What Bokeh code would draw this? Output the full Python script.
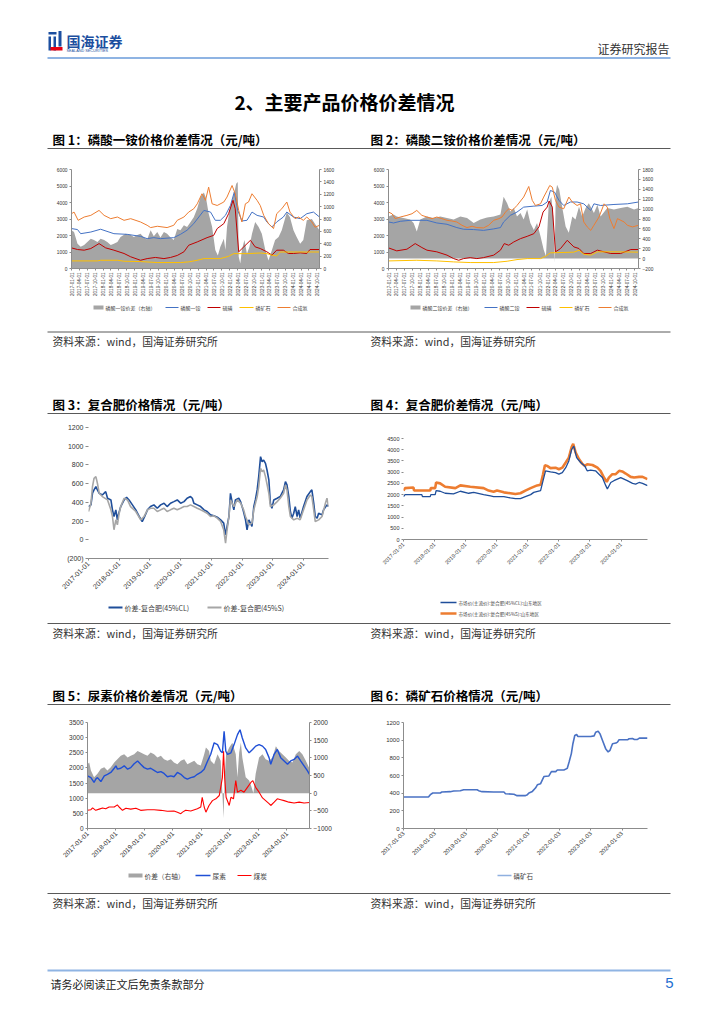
import math
import datetime as dt
from bokeh.plotting import figure
from bokeh.models import Range1d, LinearAxis, FixedTicker, DatetimeTickFormatter, Spacer
from bokeh.layouts import column, row
from bokeh.embed import file_html
from bokeh.resources import INLINE
from bokeh.core.properties import value

CJK = "Noto Sans CJK SC"
NUM = "Liberation Sans"

# ---------------- tick labels ----------------
quarter_labels = [f"{y}-{m:02d}-01" for y in range(2017, 2025) for m in (1, 4, 7, 10)]
year_labels = [f"{y}-01-01" for y in range(2017, 2025)]
year_labels_c6 = [f"{y}-01-03" for y in range(2017, 2025)]

# ---------------- chart 1 : MAP ----------------
c1_gap_t = [2017.00,2017.08,2017.19,2017.29,2017.40,2017.50,2017.61,2017.71,2017.82,2017.92,
            2018.03,2018.13,2018.24,2018.34,2018.45,2018.55,2018.71,2018.87,2018.97,2019.08,
            2019.18,2019.29,2019.39,2019.50,2019.60,2019.71,2019.81,2019.92,2020.02,2020.13,
            2020.23,2020.34,2020.44,2020.55,2020.65,2020.76,2020.86,2020.97,2021.07,2021.18,
            2021.25,2021.33,2021.44,2021.54,2021.62,2021.70,2021.81,2021.86,2021.91,2021.99,
            2022.07,2022.14,2022.20,2022.25,2022.28,2022.33,2022.38,2022.46,2022.54,2022.62,
            2022.70,2022.80,2022.91,2023.01,2023.12,2023.22,2023.33,2023.43,2023.54,2023.64,
            2023.80,2023.90,2024.01,2024.11,2024.22,2024.32,2024.43,2024.59,2024.69,2024.83]
c1_gap = [620,590,400,350,380,430,480,460,430,480,
          460,430,380,400,430,510,560,540,510,540,
          560,500,470,620,520,590,500,590,560,500,
          460,640,620,700,670,750,830,970,1150,1230,
          1130,890,670,300,210,350,480,300,670,940,
          1100,1230,1370,1400,190,80,300,460,240,350,
          560,750,670,560,300,130,300,460,510,620,
          910,830,620,510,400,460,780,800,720,620]
c1_map_t = [2017.00,2017.19,2017.29,2017.61,2017.92,2018.34,2018.76,2019.18,2019.39,2019.60,
            2019.81,2020.23,2020.44,2020.65,2020.86,2021.02,2021.18,2021.39,2021.54,2021.70,
            2021.86,2022.02,2022.14,2022.25,2022.38,2022.54,2022.70,2022.86,2023.07,2023.17,
            2023.33,2023.48,2023.69,2023.80,2024.01,2024.22,2024.43,2024.64,2024.83]
c1_map = [2420,2360,2110,2210,2380,2110,2070,1950,1810,1870,
          1810,1870,2070,2320,2720,3120,3520,3420,2920,2920,
          3220,3830,4630,3520,2880,2920,3420,3220,3120,2820,
          2520,2820,3120,3420,3120,3020,3320,3420,3120]
c1_s_t = [2017.00,2017.19,2017.40,2017.61,2017.87,2018.08,2018.34,2018.66,2018.87,2019.18,
          2019.39,2019.65,2019.92,2020.13,2020.34,2020.55,2020.70,2020.97,2021.28,2021.49,
          2021.60,2021.81,2021.96,2022.10,2022.17,2022.28,2022.44,2022.65,2022.80,2022.96,
          2023.17,2023.33,2023.48,2023.69,2023.85,2024.01,2024.22,2024.43,2024.53,2024.83]
c1_s = [1250,1150,1110,1210,1510,1250,1110,910,710,500,
        600,670,600,670,790,1010,1410,1610,1870,2010,
        2420,2720,3320,4130,3620,1010,1310,1710,1310,1210,
        1010,810,1110,1110,910,910,950,910,1150,1150]
c1_rock_t = [2017.00,2017.82,2017.92,2018.45,2018.66,2019.18,2019.71,2020.44,2020.70,2020.97,
             2021.18,2021.70,2021.96,2022.12,2022.54,2022.96,2023.17,2023.33,2023.48,2023.59,
             2024.01,2024.43,2024.83]
c1_rock = [460,460,500,500,440,420,360,360,400,500,
           600,600,740,900,900,940,900,810,760,1000,
           1000,1000,1000]
c1_nh3_t = [2017.00,2017.08,2017.21,2017.40,2017.61,2017.87,2018.03,2018.24,2018.45,2018.66,
            2018.87,2019.18,2019.39,2019.50,2019.71,2020.02,2020.23,2020.34,2020.55,2020.70,
            2020.86,2020.97,2021.12,2021.23,2021.33,2021.44,2021.60,2021.81,2021.91,2022.07,
            2022.17,2022.28,2022.38,2022.49,2022.59,2022.70,2022.86,2022.96,2023.07,2023.22,
            2023.38,2023.48,2023.64,2023.80,2023.90,2024.06,2024.17,2024.32,2024.43,2024.59,
            2024.69,2024.83]
c1_nh3 = [3320,3420,2920,3120,3220,3520,3220,3020,3120,2920,
          3020,2820,2620,2480,2560,2480,2620,2920,3120,3420,
          3620,3920,4530,4130,4930,3920,3820,4030,4330,5030,
          4530,3520,2820,3920,4030,4530,4130,3820,3220,2720,
          2420,3320,3620,4030,3420,3020,3120,2920,3120,2820,
          2500,2620]

# ---------------- chart 2 : DAP ----------------
c2_gap_t = [2017.00,2017.16,2017.26,2017.47,2017.68,2017.79,2017.89,2018.00,2018.21,2018.42,
            2018.63,2018.84,2019.05,2019.26,2019.47,2019.68,2019.89,2020.10,2020.31,2020.52,
            2020.62,2020.73,2020.83,2020.94,2021.04,2021.15,2021.25,2021.36,2021.46,2021.57,
            2021.67,2021.78,2021.88,2021.95,2021.99,2022.04,2022.12,2022.18,2022.22,2022.26,
            2022.30,2022.37,2022.46,2022.57,2022.67,2022.78,2022.88,2022.99,2023.09,2023.20,
            2023.30,2023.46,2023.57,2023.67,2023.88,2024.09,2024.30,2024.51,2024.72,2024.86]
c2_gap = [850,890,850,820,790,720,550,790,850,820,
          850,820,790,850,820,720,790,830,850,890,
          1250,1120,950,1020,850,920,790,990,720,580,
          720,450,180,50,520,1120,1250,850,-90,1320,
          1490,1390,1050,650,520,850,790,1050,850,1020,
          1120,920,1090,850,1020,990,1020,1050,990,1020]
c2_dap_t = [2017.00,2017.16,2017.37,2017.68,2018.21,2018.52,2018.84,2019.15,2019.36,2019.68,
            2019.99,2020.31,2020.52,2020.62,2020.83,2021.04,2021.25,2021.57,2021.83,2021.99,
            2022.09,2022.22,2022.36,2022.51,2022.72,2022.93,2023.14,2023.36,2023.46,2023.67,
            2024.09,2024.51,2024.86]
c2_dap = [2820,2760,2860,2920,2920,2760,2680,2480,2380,2360,
          2310,2400,2480,2820,3220,3420,3720,3780,3820,4030,
          4730,4630,4130,3820,4030,4030,3920,3520,3920,3820,
          3880,3920,4030]
c2_s_t = [2017.00,2017.26,2017.58,2017.84,2018.05,2018.21,2018.52,2018.84,2019.05,2019.21,
          2019.36,2019.57,2019.78,2019.99,2020.31,2020.52,2020.64,2020.78,2020.94,2021.15,
          2021.36,2021.57,2021.73,2021.86,2021.99,2022.05,2022.15,2022.25,2022.41,2022.62,
          2022.83,2022.99,2023.14,2023.36,2023.57,2023.78,2023.99,2024.30,2024.62,2024.86]
c2_s = [1250,1070,1170,1510,1270,1110,1010,810,600,500,
        600,660,600,660,810,1110,1510,1410,1610,1810,
        1950,2110,2520,3420,3720,4090,3720,1010,1210,1710,
        1310,1210,910,910,1110,1010,910,910,1150,1150]
c2_rock_t = [2017.00,2017.89,2018.52,2019.05,2019.57,2020.31,2020.73,2021.04,2021.36,2021.78,
             2021.94,2022.09,2022.83,2022.99,2023.14,2023.36,2023.57,2024.09,2024.86]
c2_rock = [460,500,460,400,360,360,440,540,600,600,
           740,950,990,1110,870,810,1010,1010,990]
c2_nh3_t = [2017.00,2017.11,2017.21,2017.37,2017.58,2017.74,2017.89,2018.05,2018.21,2018.37,
            2018.52,2018.68,2018.84,2018.99,2019.15,2019.31,2019.47,2019.63,2019.78,2019.99,
            2020.15,2020.31,2020.47,2020.57,2020.68,2020.78,2020.89,2021.04,2021.25,2021.41,
            2021.52,2021.62,2021.78,2021.88,2021.99,2022.07,2022.15,2022.25,2022.36,2022.51,
            2022.67,2022.78,2022.93,2023.04,2023.14,2023.25,2023.36,2023.46,2023.62,2023.78,
            2023.88,2023.96,2024.09,2024.20,2024.41,2024.51,2024.67,2024.86]
c2_nh3 = [3420,3320,3020,3120,3220,3320,3520,3220,3120,3020,
          3120,3020,2920,2880,2820,2620,2480,2560,2480,2460,
          2620,2920,3020,3120,3420,3620,3520,3820,4330,4970,
          4130,3820,3920,4330,4730,5030,4930,4130,3720,3620,
          4330,4030,3820,3920,2820,2520,2310,2620,3120,3920,
          3720,3020,2420,3020,2820,2620,2520,2620]

# ---------------- chart 3 : compound fertilizer spread ----------------
c3_cl_t = [2017.00,2017.08,2017.13,2017.18,2017.24,2017.29,2017.35,2017.45,2017.56,2017.62,
           2017.73,2017.78,2017.83,2017.89,2017.94,2017.97,2018.05,2018.16,2018.24,2018.32,
           2018.43,2018.54,2018.65,2018.75,2018.83,2018.92,2019.02,2019.13,2019.24,2019.35,
           2019.46,2019.56,2019.67,2019.78,2019.89,2020.00,2020.11,2020.21,2020.32,2020.38,
           2020.43,2020.54,2020.65,2020.76,2020.86,2020.97,2021.08,2021.19,2021.30,2021.40,
           2021.46,2021.51,2021.57,2021.62,2021.68,2021.73,2021.78,2021.89,2021.95,2022.03,
           2022.11,2022.16,2022.22,2022.27,2022.32,2022.38,2022.43,2022.49,2022.54,2022.60,
           2022.65,2022.70,2022.76,2022.81,2022.87,2022.92,2022.97,2023.03,2023.14,2023.24,
           2023.35,2023.41,2023.46,2023.52,2023.57,2023.62,2023.68,2023.73,2023.79,2023.84,
           2023.89,2024.00,2024.11,2024.22,2024.27,2024.33,2024.38,2024.44,2024.49,2024.60,
           2024.65,2024.76,2024.81]
c3_cl = [355,373,497,533,568,533,497,479,515,444,
         426,320,249,320,213,266,355,426,454,426,
         373,320,249,195,249,320,355,373,337,373,
         391,355,391,408,426,391,408,444,462,444,
         391,373,355,320,302,266,256,241,213,178,
         53,142,249,497,391,320,426,444,408,320,
         213,107,213,178,142,355,426,533,675,888,
         834,852,817,746,639,391,337,426,444,462,
         533,621,586,462,302,231,284,355,249,320,
         231,355,462,515,533,391,249,231,284,266,
         320,373,355]
c3_s_t = [2017.00,2017.08,2017.13,2017.18,2017.24,2017.29,2017.35,2017.45,2017.62,2017.73,
          2017.78,2017.83,2017.89,2017.94,2018.00,2018.05,2018.16,2018.27,2018.37,2018.54,
          2018.70,2018.81,2018.92,2019.02,2019.13,2019.24,2019.35,2019.46,2019.56,2019.67,
          2019.78,2019.89,2020.00,2020.11,2020.21,2020.32,2020.43,2020.54,2020.65,2020.76,
          2020.86,2020.97,2021.08,2021.19,2021.30,2021.40,2021.46,2021.51,2021.57,2021.62,
          2021.73,2021.84,2021.95,2022.05,2022.11,2022.22,2022.32,2022.38,2022.49,2022.54,
          2022.60,2022.65,2022.70,2022.76,2022.87,2022.92,2023.03,2023.14,2023.24,2023.35,
          2023.41,2023.46,2023.52,2023.57,2023.68,2023.79,2023.89,2024.00,2024.11,2024.22,
          2024.27,2024.33,2024.38,2024.49,2024.60,2024.71,2024.76,2024.81]
c3_s = [302,391,568,657,675,604,497,462,426,320,
        249,107,213,160,284,355,444,426,355,302,
        213,249,320,337,337,302,320,337,302,320,
        337,320,337,355,355,373,355,337,320,302,
        284,249,256,231,195,107,-35,107,249,426,
        355,426,391,320,249,160,178,320,462,568,
        763,728,746,675,497,355,373,408,444,497,
        586,533,355,249,213,231,213,320,426,479,
        462,320,195,213,249,391,444,355]

# ---------------- chart 4 : compound fertilizer prices ----------------
c4_cl_t = [2017.00,2017.05,2017.59,2017.61,2017.86,2017.88,2018.02,2018.05,2018.18,2018.34,
           2018.61,2018.83,2019.10,2019.26,2019.58,2019.80,2019.90,2020.23,2020.44,2020.60,
           2020.76,2020.92,2021.09,2021.19,2021.41,2021.49,2021.57,2021.73,2021.89,2022.00,
           2022.11,2022.22,2022.32,2022.41,2022.48,2022.57,2022.70,2022.83,2022.91,2023.02,
           2023.18,2023.29,2023.40,2023.51,2023.56,2023.67,2023.77,2023.88,2023.99,2024.20,
           2024.37,2024.47,2024.58,2024.69,2024.85]
c4_cl = [1910,2000,2000,1910,1910,2000,2000,2180,2150,2060,
         2030,2150,2060,2100,2000,1940,1910,1910,1850,1820,
         1820,1910,2000,2100,2180,2620,3060,3010,2980,2910,
         2980,3200,3500,4010,4160,3650,3430,3280,3060,3090,
         3060,2910,2760,2400,2250,2540,2620,2690,2760,2620,
         2500,2470,2540,2500,2400]
c4_s_t = [2017.00,2017.05,2017.32,2017.34,2017.86,2017.88,2018.02,2018.05,2018.18,2018.34,
          2018.67,2018.83,2019.15,2019.58,2019.74,2019.90,2020.01,2020.23,2020.44,2020.60,
          2020.76,2020.92,2021.09,2021.30,2021.41,2021.49,2021.55,2021.62,2021.73,2021.89,
          2022.00,2022.11,2022.22,2022.32,2022.41,2022.46,2022.54,2022.65,2022.75,2022.83,
          2022.91,2023.08,2023.24,2023.34,2023.45,2023.54,2023.61,2023.72,2023.83,2023.94,
          2024.04,2024.15,2024.31,2024.42,2024.58,2024.69,2024.85]
c4_s = [2180,2290,2320,2180,2180,2290,2290,2540,2500,2350,
        2290,2410,2350,2290,2180,2130,2180,2100,2060,2030,
        2060,2180,2290,2410,2440,2910,3310,3280,3180,3200,
        3130,3200,3430,3650,4120,4260,3870,3570,3380,3280,
        3350,3320,3200,3060,2760,2570,2760,2910,2910,3060,
        3030,2940,2790,2760,2790,2790,2690]

# ---------------- chart 5 : urea ----------------
c5_gap_t = [2017.00,2017.06,2017.12,2017.23,2017.35,2017.47,2017.59,2017.70,2017.82,2017.94,
            2018.05,2018.17,2018.29,2018.41,2018.52,2018.64,2018.76,2018.87,2018.99,2019.11,
            2019.22,2019.34,2019.46,2019.58,2019.69,2019.81,2019.93,2020.04,2020.16,2020.28,
            2020.40,2020.51,2020.63,2020.75,2020.86,2020.98,2021.10,2021.16,2021.22,2021.27,
            2021.33,2021.45,2021.57,2021.68,2021.74,2021.78,2021.82,2021.87,2021.98,2022.09,
            2022.21,2022.27,2022.33,2022.39,2022.44,2022.56,2022.68,2022.76,2022.83,2022.91,
            2023.03,2023.15,2023.26,2023.38,2023.50,2023.62,2023.73,2023.85,2023.97,2024.08,
            2024.20,2024.32,2024.44,2024.55,2024.67,2024.80]
c5_gap = [820,870,640,450,550,690,730,640,730,870,
          960,1060,1100,1010,1060,1100,1190,1150,1100,1060,
          1150,1100,1010,1060,960,920,960,870,820,920,
          960,820,870,920,820,780,1100,1290,1240,1190,
          920,820,1100,920,-10,-700,450,1100,1290,1430,
          1100,450,1150,1430,1010,450,360,180,0,550,
          1010,1100,960,920,1010,1330,1190,1100,1010,920,
          870,1100,1190,1100,920,690]
c5_urea_t = [2017.00,2017.12,2017.23,2017.29,2017.35,2017.47,2017.59,2017.70,2017.82,2017.94,
             2018.00,2018.05,2018.17,2018.29,2018.41,2018.52,2018.64,2018.76,2018.87,2018.99,
             2019.11,2019.22,2019.34,2019.46,2019.58,2019.69,2019.81,2019.93,2020.04,2020.16,
             2020.28,2020.40,2020.51,2020.63,2020.75,2020.86,2020.98,2021.10,2021.22,2021.33,
             2021.45,2021.57,2021.68,2021.74,2021.80,2021.86,2021.92,2022.04,2022.15,2022.27,
             2022.36,2022.44,2022.56,2022.68,2022.80,2022.91,2023.03,2023.15,2023.26,2023.38,
             2023.44,2023.56,2023.67,2023.79,2023.91,2024.03,2024.14,2024.26,2024.38,2024.49,
             2024.61,2024.73,2024.80]
c5_urea = [1740,1680,1520,1630,1680,1550,1740,1790,1850,1990,
           2070,1960,1990,2070,1960,2010,2140,2230,2120,2010,
           1960,1990,1920,1850,1880,1820,1710,1740,1710,1850,
           1790,1680,1630,1680,1710,1790,1850,1960,2230,2450,
           2830,2770,2550,2500,3210,2550,2450,2500,2770,3100,
           3260,2990,2660,2500,2610,2720,2770,2720,2610,2340,
           2120,2450,2610,2340,2230,2120,2230,2280,2390,2230,
           2070,1900,1790]
c5_coal_t = [2017.00,2017.12,2017.18,2017.29,2017.41,2017.53,2017.64,2017.76,2017.94,2018.05,
             2018.11,2018.23,2018.35,2018.52,2018.70,2018.87,2019.11,2019.34,2019.58,2019.81,
             2020.04,2020.16,2020.28,2020.34,2020.45,2020.63,2020.86,2020.98,2021.03,2021.10,
             2021.16,2021.27,2021.39,2021.51,2021.63,2021.68,2021.74,2021.78,2021.82,2021.87,
             2021.98,2022.04,2022.13,2022.21,2022.27,2022.39,2022.50,2022.62,2022.74,2022.81,
             2022.91,2023.03,2023.15,2023.26,2023.38,2023.44,2023.56,2023.67,2023.79,2023.91,
             2024.08,2024.26,2024.44,2024.61,2024.80]
c5_coal = [600,620,680,600,640,680,650,710,710,780,
           710,600,670,640,670,600,620,620,600,570,
           580,540,490,540,600,580,650,710,1030,710,
           540,760,920,980,1090,1360,1680,2550,1680,1030,
           760,1030,980,1580,1200,1260,1200,1360,1520,1580,
           1360,1200,1010,920,820,760,870,980,950,920,
           870,840,870,840,860]

# ---------------- chart 6 : phosphate rock ----------------
c6_t = [2017.00,2017.80,2017.86,2017.94,2018.18,2018.23,2018.50,2018.61,2018.82,2018.93,
        2019.36,2019.41,2019.52,2019.89,2020.22,2020.27,2020.54,2020.64,2020.91,2020.97,
        2021.02,2021.13,2021.23,2021.29,2021.39,2021.45,2021.50,2021.66,2021.74,2021.88,
        2021.93,2022.14,2022.25,2022.31,2022.38,2022.43,2022.49,2022.55,2022.59,2023.00,
        2023.11,2023.16,2023.24,2023.30,2023.38,2023.48,2023.56,2023.62,2023.70,2023.81,
        2023.86,2023.91,2024.18,2024.23,2024.34,2024.40,2024.50,2024.56,2024.82]
c6_rock = [357,357,383,402,402,413,417,424,428,439,
           439,428,417,413,413,394,387,372,372,383,
           402,420,458,495,506,551,588,595,644,644,
           662,662,681,755,848,960,1053,1064,1042,1042,
           1049,1090,1101,1071,997,904,867,885,960,967,
           978,1004,1004,1016,1019,1008,1008,1023,1023]

# ---------------- series names ----------------
c1_names = ["磷酸一铵价差（右轴）", "磷酸一铵", "硫磺", "磷矿石", "合成氨"]
c2_names = ["磷酸二铵价差（右轴）", "磷酸二铵", "硫磺", "磷矿石", "合成氨"]
c3_names = ["价差-复合肥(45%CL)", "价差-复合肥(45%S)"]
c4_names = ["市场价(主流价):复合肥(45%CL):山东地区", "市场价(主流价):复合肥(45%S):山东地区"]
c5_names = ["价差（右轴）", "尿素", "煤炭"]
c6_names = ["磷矿石"]

# ---------------- colours ----------------
GRAY = "#a5a5a5"
C_BLUE = "#4472c4"
C_RED = "#c00000"
C_YEL = "#ffc000"
C_ORG = "#ed7d31"
C_NAVY = "#1f4e9a"
C_LGRAY = "#a6a6a6"
C_UREA = "#1f4fd6"
C_COAL = "#ff0000"
C_ROCK = "#4a72c4"


# ---------------- helpers ----------------
def to_dt(t):
    y = int(math.floor(t))
    a = dt.datetime(y, 1, 1)
    b = dt.datetime(y + 1, 1, 1)
    return a + (b - a) * (t - y)


def dts(ts):
    return [to_dt(t) for t in ts]


def ms(s):
    d = dt.datetime.strptime(s, "%Y-%m-%d")
    return (d - dt.datetime(1970, 1, 1)).total_seconds() * 1000.0


FMT = "%Y-%m-%d"


def date_fmt():
    return DatetimeTickFormatter(microseconds=FMT, milliseconds=FMT, seconds=FMT, minsec=FMT,
                                 minutes=FMT, hourmin=FMT, hours=FMT, days=FMT, months=FMT,
                                 years=FMT)


def base_chart(w, h, b, xr, yr):
    p = figure(width=w, height=h, x_axis_type="datetime",
               x_range=Range1d(to_dt(xr[0]), to_dt(xr[1])), y_range=Range1d(*yr),
               toolbar_location=None, output_backend="svg", title=None,
               min_border_left=b[0], min_border_right=b[1],
               min_border_top=b[2], min_border_bottom=b[3],
               outline_line_color=None, border_fill_color="white",
               background_fill_color="white")
    p.xgrid.visible = False
    p.ygrid.visible = False
    return p


def style_axis(ax, fs, line=True, orient=None):
    ax.major_label_text_font = NUM
    ax.major_label_text_font_size = fs
    ax.major_label_text_color = "#333333"
    ax.axis_line_color = "#8c8c8c" if line else None
    ax.major_tick_line_color = "#8c8c8c"
    ax.major_tick_in = 0
    ax.major_tick_out = 2
    ax.minor_tick_line_color = None
    ax.major_label_standoff = 2
    if orient is not None:
        ax.major_label_orientation = orient


def x_dates(p, labels, fs, orient):
    ax = p.xaxis[0]
    ax.ticker = FixedTicker(ticks=[ms(s) for s in labels])
    ax.formatter = date_fmt()
    style_axis(ax, fs, True, orient)


def band(y0, h):
    """Full-width figure whose data space is the page's pixel space."""
    return figure(width=716, height=h, x_range=Range1d(0, 716), y_range=Range1d(y0 + h, y0),
                  x_axis_type=None, y_axis_type=None, toolbar_location=None,
                  output_backend="svg", title=None, min_border=0,
                  outline_line_color=None, border_fill_color="white",
                  background_fill_color="white")


def txt(b, x, y, s, size, color="#000000", bold=False, align="left", font=CJK):
    b.text(x=[x], y=[y], text=[s], text_font=value(font), text_font_size=size,
           text_color=color, text_font_style="bold" if bold else "normal",
           text_align=align, text_baseline="middle")


def rule(b, y, color="#595959", width=1.0):
    b.segment(x0=[47], y0=[y], x1=[670], y1=[y], line_color=color, line_width=width)


def legend_keys(f, keys, names, fs):
    # keys: (kind, colour, width, key_left, key_right, y)
    for (kind, color, lw, k0, k1, y), name in zip(keys, names):
        if kind == "box":
            f.quad(left=[k0], right=[k1], top=[y - 2], bottom=[y + 2],
                   fill_color=color, line_color=None)
        else:
            f.segment(x0=[k0], y0=[y], x1=[k1], y1=[y], line_color=color, line_width=lw)
        txt(f, k1 + 2, y, name, fs, "#404040")


SRC = "资料来源：wind，国海证券研究所"

# ---------------- chart 1 ----------------
p1 = base_chart(362, 151, (71, 43, 20, 32), (2017.0, 2024.83), (0, 6000))
p1.extra_y_ranges = {"r": Range1d(0, 1600)}
p1.varea(x=dts(c1_gap_t), y1=0, y2=c1_gap, y_range_name="r", fill_color=GRAY)
p1.line(x=dts(c1_map_t), y=c1_map, line_color=C_BLUE, line_width=1)
p1.line(x=dts(c1_s_t), y=c1_s, line_color=C_RED, line_width=1)
p1.line(x=dts(c1_rock_t), y=c1_rock, line_color=C_YEL, line_width=1)
p1.line(x=dts(c1_nh3_t), y=c1_nh3, line_color=C_ORG, line_width=1)
p1.yaxis[0].ticker = FixedTicker(ticks=list(range(0, 6001, 1000)))
style_axis(p1.yaxis[0], "4.8px")
ra1 = LinearAxis(y_range_name="r", ticker=FixedTicker(ticks=list(range(0, 1601, 200))))
style_axis(ra1, "4.8px")
p1.add_layout(ra1, "right")
x_dates(p1, quarter_labels, "4.6px", math.pi / 2)

# ---------------- chart 2 ----------------
p2 = base_chart(354, 151, (26, 78, 20, 32), (2017.0, 2024.86), (0, 6000))
p2.extra_y_ranges = {"r": Range1d(-200, 1800)}
p2.varea(x=dts(c2_gap_t), y1=0, y2=c2_gap, y_range_name="r", fill_color=GRAY)
p2.line(x=dts(c2_dap_t), y=c2_dap, line_color=C_BLUE, line_width=1)
p2.line(x=dts(c2_s_t), y=c2_s, line_color=C_RED, line_width=1)
p2.line(x=dts(c2_rock_t), y=c2_rock, line_color=C_YEL, line_width=1)
p2.line(x=dts(c2_nh3_t), y=c2_nh3, line_color=C_ORG, line_width=1)
p2.yaxis[0].ticker = FixedTicker(ticks=list(range(0, 6001, 1000)))
style_axis(p2.yaxis[0], "4.8px")
ra2 = LinearAxis(y_range_name="r", ticker=FixedTicker(ticks=list(range(-200, 1801, 200))))
style_axis(ra2, "4.8px")
p2.add_layout(ra2, "right")
x_dates(p2, quarter_labels, "4.6px", math.pi / 2)

# ---------------- chart 3 ----------------
p3 = base_chart(362, 182, (88, 34, 13, 38), (2017.0, 2024.81), (-200, 1200))
p3.line(x=dts(c3_cl_t), y=c3_cl, line_color=C_NAVY, line_width=1.6)
p3.line(x=dts(c3_s_t), y=c3_s, line_color=C_LGRAY, line_width=1.6)
p3.yaxis[0].ticker = FixedTicker(ticks=list(range(-200, 1201, 200)))
p3.yaxis[0].major_label_overrides = {-200: "(200)"}
style_axis(p3.yaxis[0], "7px", line=False)
p3.yaxis[0].major_tick_out = 3
x_dates(p3, year_labels, "7px", math.pi / 4)

# ---------------- chart 4 ----------------
p4 = base_chart(354, 182, (41, 69, 24, 57), (2017.0, 2024.85), (0, 4500))
p4.line(x=dts(c4_s_t), y=c4_s, line_color=C_ORG, line_width=2.6)
p4.line(x=dts(c4_cl_t), y=c4_cl, line_color=C_NAVY, line_width=1.3)
p4.yaxis[0].ticker = FixedTicker(ticks=list(range(0, 4501, 500)))
style_axis(p4.yaxis[0], "5.5px", line=False)
x_dates(p4, year_labels, "5.5px", math.pi / 4)

# ---------------- chart 5 ----------------
p5 = base_chart(362, 159, (87, 53, 16, 36), (2017.0, 2024.80), (0, 3500))
p5.extra_y_ranges = {"r": Range1d(-1000, 2000)}
p5.varea(x=dts(c5_gap_t), y1=0, y2=c5_gap, y_range_name="r", fill_color=GRAY)
p5.line(x=dts(c5_urea_t), y=c5_urea, line_color=C_UREA, line_width=1.4)
p5.line(x=dts(c5_coal_t), y=c5_coal, line_color=C_COAL, line_width=1.1)
p5.yaxis[0].ticker = FixedTicker(ticks=list(range(0, 3501, 500)))
style_axis(p5.yaxis[0], "6.5px")
ra5 = LinearAxis(y_range_name="r", ticker=FixedTicker(ticks=list(range(-1000, 2001, 500))))
style_axis(ra5, "6.5px")
p5.add_layout(ra5, "right")
x_dates(p5, year_labels, "6.5px", math.pi / 4)

# ---------------- chart 6 ----------------
p6 = base_chart(354, 159, (41, 69, 17, 35), (2017.0, 2024.82), (0, 1200))
p6.line(x=dts(c6_t), y=c6_rock, line_color=C_ROCK, line_width=1.6)
p6.yaxis[0].ticker = FixedTicker(ticks=list(range(0, 1201, 200)))
style_axis(p6.yaxis[0], "6px")
x_dates(p6, year_labels_c6, "6px", math.pi / 4)

# ---------------- page bands ----------------
hdr = band(0, 149)
hdr.quad(left=[48, 48, 53, 58, 50], right=[56, 50.5, 55.5, 61, 62],
         top=[31.5, 36, 36, 30.5, 46.5], bottom=[34, 50, 50, 46, 50],
         fill_color=["#1c4fa0", "#1c4fa0", "#1c4fa0", "#1c4fa0", "#e60012"], line_color=None)
txt(hdr, 66, 40, "国海证券", "14px", "#1c4fa0", bold=True)
txt(hdr, 66, 50, "SEALAND SECURITIES", "3.8px", "#1c4fa0", font=NUM)
txt(hdr, 669, 48, "证券研究报告", "12px", "#333333", align="right")
rule(hdr, 57.5, "#8fb4e3", 2)
txt(hdr, 344, 101, "2、主要产品价格价差情况", "19px", "#000000", bold=True, align="center")
txt(hdr, 52, 139, "图 1：磷酸一铵价格价差情况（元/吨）", "12.5px", bold=True)
txt(hdr, 370, 139, "图 2：磷酸二铵价格价差情况（元/吨）", "12.5px", bold=True)
rule(hdr, 148)

b1 = band(300, 114)
legend_keys(b1, [("box", GRAY, 0, 93, 103, 307), ("line", C_BLUE, 1, 165, 178, 307),
                 ("line", C_RED, 1, 207, 220, 307), ("line", C_YEL, 1, 239, 253, 307),
                 ("line", C_ORG, 1, 277, 290, 307)], c1_names, "5px")
legend_keys(b1, [("box", GRAY, 0, 410, 420, 307), ("line", C_BLUE, 1, 484, 497, 307),
                 ("line", C_RED, 1, 526, 539, 307), ("line", C_YEL, 1, 559, 572, 307),
                 ("line", C_ORG, 1, 598, 611, 307)], c2_names, "5px")
rule(b1, 331.5)
txt(b1, 52, 340, SRC, "10.8px", "#333333")
txt(b1, 370, 340, SRC, "10.8px", "#333333")
txt(b1, 52, 404, "图 3：复合肥价格情况（元/吨）", "12.5px", bold=True)
txt(b1, 370, 404, "图 4：复合肥价差情况（元/吨）", "12.5px", bold=True)
rule(b1, 413)

b2 = band(597, 108)
legend_keys(b2, [("line", C_NAVY, 1.8, 108, 122, 607), ("line", C_LGRAY, 1.8, 207, 221, 607)],
            c3_names, "7px")
legend_keys(b2, [("line", C_NAVY, 1.3, 440, 456, 602), ("line", C_ORG, 2.6, 440, 456, 613)],
            c4_names, "4.6px")
rule(b2, 623)
txt(b2, 52, 632, SRC, "10.8px", "#333333")
txt(b2, 370, 632, SRC, "10.8px", "#333333")
txt(b2, 52, 695, "图 5：尿素价格价差情况（元/吨）", "12.5px", bold=True)
txt(b2, 370, 695, "图 6：磷矿石价格情况（元/吨）", "12.5px", bold=True)
rule(b2, 704)

b3 = band(864, 152)
legend_keys(b3, [("box", GRAY, 0, 128, 142, 875), ("line", C_UREA, 1.4, 195, 210, 875),
                 ("line", C_COAL, 1.1, 237, 251, 875)], c5_names, "6.7px")
legend_keys(b3, [("line", "#8fb0e0", 1.6, 497, 511, 875)], c6_names, "6.5px")
rule(b3, 893)
txt(b3, 52, 902, SRC, "10.8px", "#333333")
txt(b3, 370, 902, SRC, "10.8px", "#333333")
rule(b3, 970, "#8fb4e3", 2)
txt(b3, 50, 983, "请务必阅读正文后免责条款部分", "11px", "#222222")
txt(b3, 673, 982, "5", "15px", "#1f6fd1", align="right", font=NUM)

# charts 3 and 4 have different frame positions; wrapping each in its own column
# keeps the row from aligning their frames.
row2 = row(column(p3, Spacer(width=362, height=1)), column(p4, Spacer(width=354, height=1)))

layout = column(hdr, row(p1, p2), b1, row2, b2, row(p5, p6), b3)

open("out.html", "w").write(file_html(layout, INLINE, title="主要产品价格价差情况"))
